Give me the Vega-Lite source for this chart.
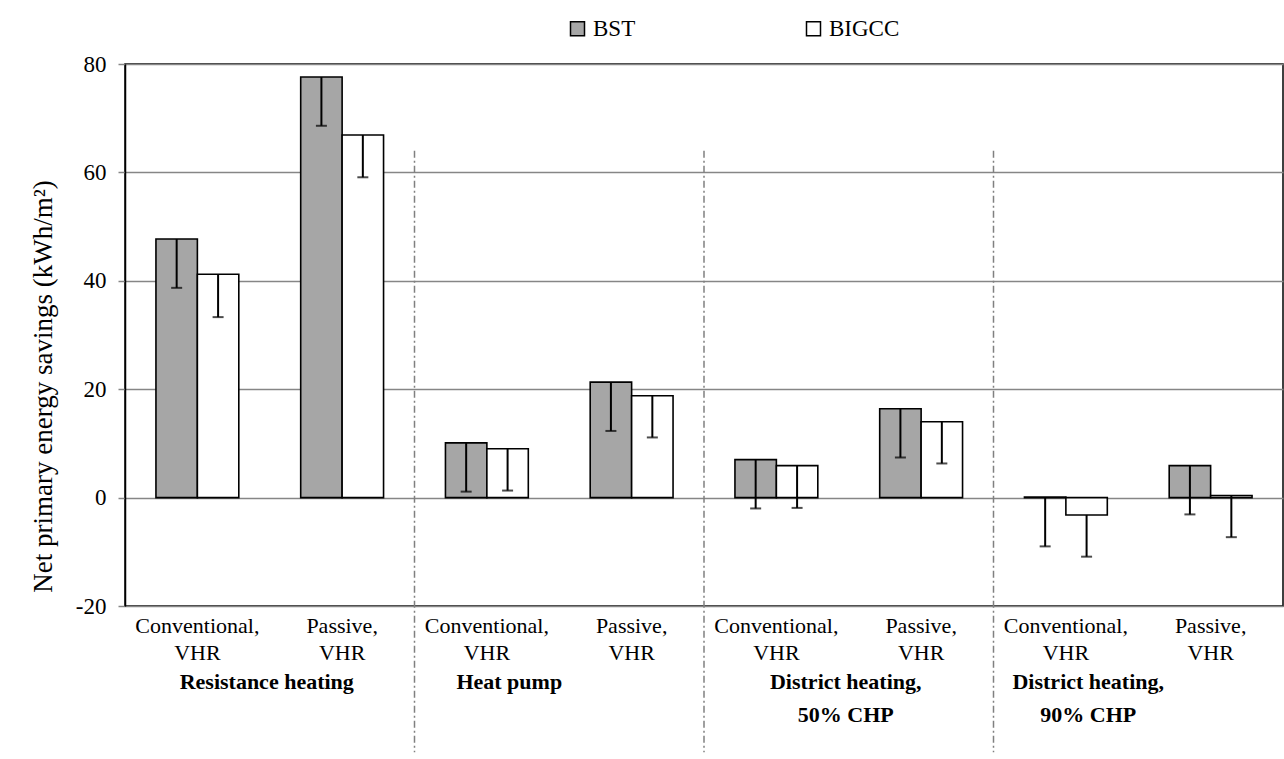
{
  "$schema": "https://vega.github.io/schema/vega-lite/v6.json",
  "width": 1158,
  "height": 542,
  "autosize": {"type": "none"},
  "padding": {"left": 125, "top": 64, "right": 1, "bottom": 153},
  "background": "white",
  "config": {
    "font": "Times New Roman, Liberation Serif, DejaVu Serif, serif",
    "view": {"stroke": "black", "strokeWidth": 1.5},
    "axis": {"labelFont": "Times New Roman, Liberation Serif, DejaVu Serif, serif", "titleFont": "Times New Roman, Liberation Serif, DejaVu Serif, serif", "labelColor": "black", "titleColor": "black"},
    "legend": {"labelFont": "Times New Roman, Liberation Serif, DejaVu Serif, serif"}
  },
  "layer": [
    {
      "data": {
        "values": [
          {"case": "RH-C", "fuel": "BST", "value": 47.7, "low": 38.7},
          {"case": "RH-C", "fuel": "BIGCC", "value": 41.2, "low": 33.3},
          {"case": "RH-P", "fuel": "BST", "value": 77.6, "low": 68.6},
          {"case": "RH-P", "fuel": "BIGCC", "value": 66.9, "low": 59.1},
          {"case": "HP-C", "fuel": "BST", "value": 10.1, "low": 1.1},
          {"case": "HP-C", "fuel": "BIGCC", "value": 9.0, "low": 1.3},
          {"case": "HP-P", "fuel": "BST", "value": 21.3, "low": 12.3},
          {"case": "HP-P", "fuel": "BIGCC", "value": 18.8, "low": 11.1},
          {"case": "DH50-C", "fuel": "BST", "value": 7.0, "low": -2.0},
          {"case": "DH50-C", "fuel": "BIGCC", "value": 5.9, "low": -1.9},
          {"case": "DH50-P", "fuel": "BST", "value": 16.4, "low": 7.4},
          {"case": "DH50-P", "fuel": "BIGCC", "value": 14.0, "low": 6.3},
          {"case": "DH90-C", "fuel": "BST", "value": 0.1, "low": -9.0},
          {"case": "DH90-C", "fuel": "BIGCC", "value": -3.2, "low": -10.9},
          {"case": "DH90-P", "fuel": "BST", "value": 5.9, "low": -3.1},
          {"case": "DH90-P", "fuel": "BIGCC", "value": 0.4, "low": -7.3}
        ]
      },
      "encoding": {
        "x": {
          "field": "case",
          "type": "nominal",
          "sort": ["RH-C", "RH-P", "HP-C", "HP-P", "DH50-C", "DH50-P", "DH90-C", "DH90-P"],
          "scale": {"paddingInner": 0, "paddingOuter": 0},
          "axis": {
            "orient": "bottom",
            "title": null,
            "ticks": false,
            "domain": false,
            "labelAngle": 0,
            "labelBaseline": "top",
            "labelPadding": 9,
            "labelFontSize": 22,
            "labelLineHeight": 27,
            "labelLimit": 0,
            "labelExpr": "indexof(datum.value, '-C') >= 0 ? ['Conventional,', 'VHR'] : ['Passive,', 'VHR']"
          }
        },
        "xOffset": {
          "field": "fuel",
          "type": "nominal",
          "sort": ["BST", "BIGCC"],
          "scale": {"paddingInner": 0, "paddingOuter": 0.747}
        }
      },
      "layer": [
        {
          "mark": {"type": "bar", "stroke": "black", "strokeWidth": 1.6},
          "encoding": {
            "y": {
              "field": "value",
              "type": "quantitative",
              "scale": {"domain": [-20, 80], "nice": false, "zero": false},
              "axis": {
                "title": "Net primary energy savings (kWh/m²)",
                "titleFontSize": 27,
                "titleFontWeight": "normal",
                "titlePadding": 18,
                "titleY": 322,
                "values": [-20, 0, 20, 40, 60, 80],
                "labelExpr": "datum.value < 0 ? '-' + (-datum.value) : '' + datum.value",
                "labelFontSize": 23,
                "labelPadding": 12,
                "tickSize": 7,
                "tickColor": "#868686",
                "tickWidth": 1.5,
                "domainColor": "black",
                "domainWidth": 1.5,
                "grid": true,
                "gridColor": "#868686",
                "gridWidth": 1.5
              }
            },
            "fill": {
              "field": "fuel",
              "type": "nominal",
              "scale": {"domain": ["BST", "BIGCC"], "range": ["#a6a6a6", "#ffffff"]},
              "legend": {
                "title": null,
                "orient": "none",
                "direction": "horizontal",
                "legendX": 441,
                "legendY": -47,
                "padding": 0,
                "symbolType": "square",
                "symbolSize": 196,
                "symbolStrokeColor": "black",
                "symbolStrokeWidth": 1.5,
                "labelFontSize": 23,
                "labelColor": "black",
                "labelOffset": 4,
                "columnPadding": 166
              }
            }
          }
        },
        {
          "mark": {"type": "rule", "color": "black", "strokeWidth": 2},
          "encoding": {
            "y": {"field": "value", "type": "quantitative"},
            "y2": {"field": "low"}
          }
        },
        {
          "mark": {"type": "tick", "color": "black", "thickness": 2, "size": 11},
          "encoding": {
            "y": {"field": "low", "type": "quantitative"}
          }
        }
      ]
    },
    {
      "data": {
        "values": [
          {"group": "Heat pump"},
          {"group": "District heating,|50% CHP"},
          {"group": "District heating,|90% CHP"}
        ]
      },
      "mark": {"type": "rule", "color": "#808080", "strokeWidth": 1.5, "strokeDash": [7, 3, 2, 3]},
      "encoding": {
        "x": {
          "field": "group",
          "type": "nominal",
          "bandPosition": 0,
          "scale": {
            "domain": ["Resistance heating", "Heat pump", "District heating,|50% CHP", "District heating,|90% CHP"],
            "paddingInner": 0,
            "paddingOuter": 0
          },
          "axis": {
            "orient": "bottom",
            "offset": 63,
            "title": null,
            "ticks": false,
            "domain": false,
            "grid": false,
            "labelAngle": 0,
            "labelBaseline": "top",
            "labelPadding": 2,
            "labelFontSize": 22,
            "labelFontWeight": "bold",
            "labelLineHeight": 33,
            "labelLimit": 0,
            "labelOffset": {"condition": {"test": "datum.value == 'Heat pump' || datum.value == 'District heating,|90% CHP'", "value": -50}, "value": -3},
            "labelExpr": "split(datum.value, '|')"
          }
        },
        "y": {"datum": 64},
        "y2": {"datum": -47}
      }
    }
  ],
  "resolve": {"scale": {"x": "independent"}}
}
